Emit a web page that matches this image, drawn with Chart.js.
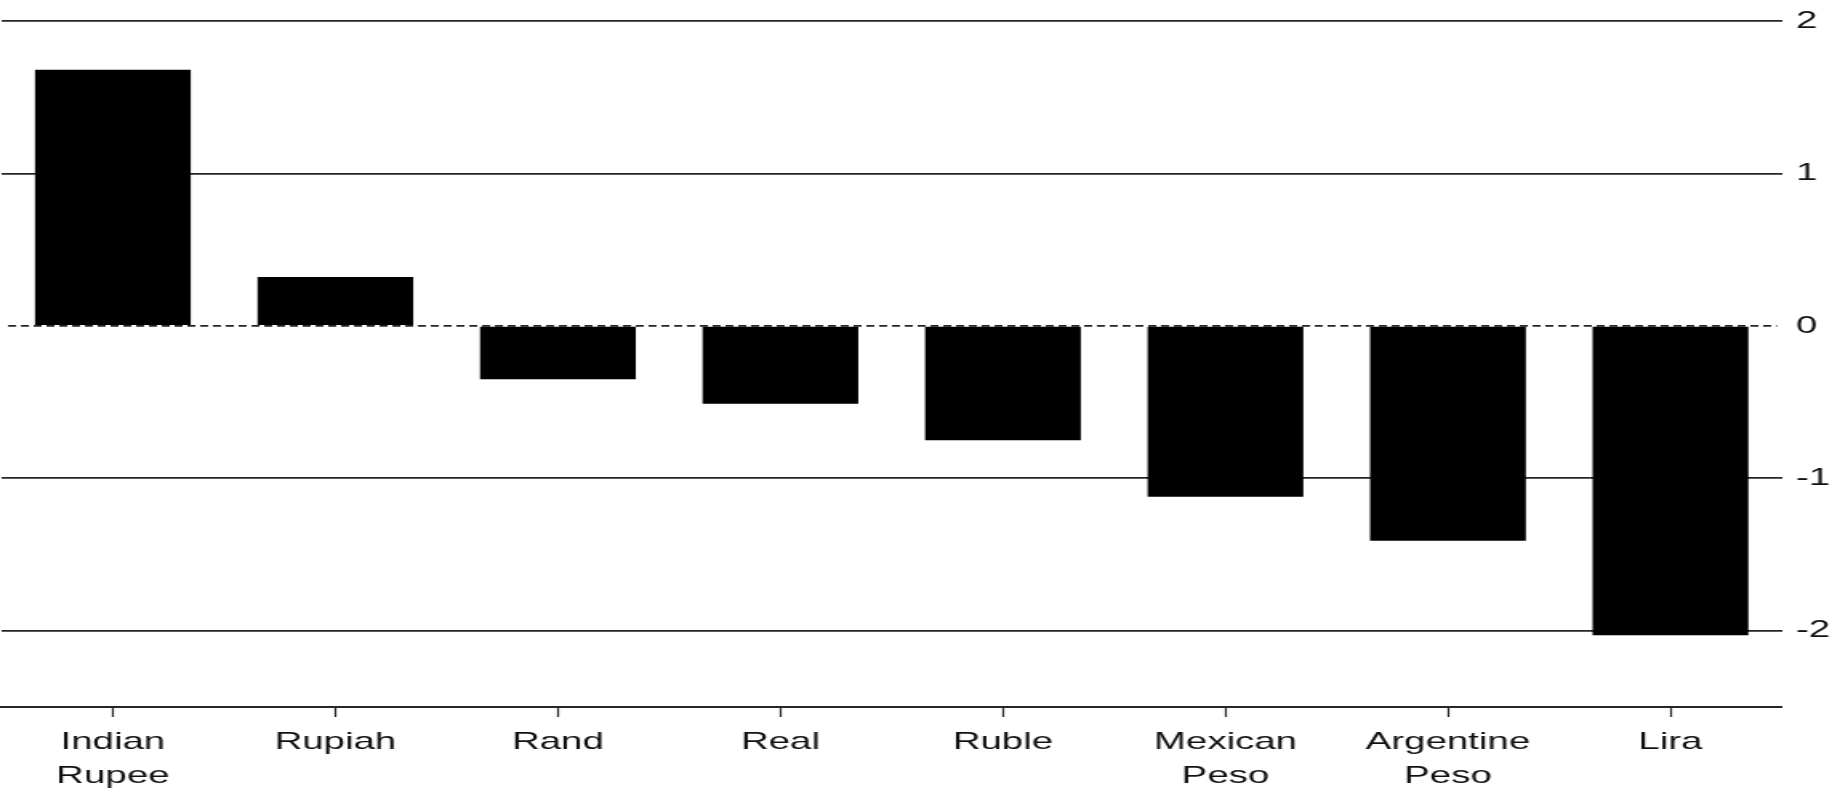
<!DOCTYPE html>
<html>
<head>
<meta charset="utf-8">
<script src="https://cdn.jsdelivr.net/npm/chart.js@4"></script>
<style>
  html, body { margin: 0; padding: 0; background: #fff; overflow: hidden; }
  /* the reference is stretched sideways, so the chart is drawn narrow and widened */
  #wrap { position: absolute; left: 0; top: 0; width: 1145.6px; height: 788px;
          transform: scaleX(1.6); transform-origin: 0 0; }
</style>
</head>
<body>
<div id="wrap"><canvas id="myChart"></canvas></div>
<script>
var categories = [['Indian', 'Rupee'], 'Rupiah', 'Rand', 'Real', 'Ruble',
                  ['Mexican', 'Peso'], ['Argentine', 'Peso'], 'Lira'];
var values = [1.68, 0.32, -0.35, -0.51, -0.75, -1.12, -1.41, -2.03];
var yTicks = [-2, -1, 0, 1, 2];

var lineColor = '#262626';
var textColor = '#111111';
var family = '"Liberation Sans", Arial, sans-serif';

// dashed line at zero, under the bars
var zeroLine = {
  id: 'zeroLine',
  beforeDatasetsDraw: function(chart) {
    var ctx = chart.ctx;
    var area = chart.chartArea;
    var y = chart.scales.y.getPixelForValue(0);
    ctx.save();
    ctx.strokeStyle = lineColor;
    ctx.lineWidth = 1.8;
    ctx.setLineDash([5, 3]);
    ctx.beginPath();
    ctx.moveTo(area.left + 4, y);
    ctx.lineTo(area.right - 3, y);
    ctx.stroke();
    ctx.restore();
  }
};

var ctx = document.getElementById('myChart').getContext('2d');
var myChart = new Chart(ctx, {
  type: 'bar',
  data: {
    labels: categories,
    datasets: [{
      data: values,
      backgroundColor: '#000000',
      borderWidth: 0,
      barPercentage: 0.7,
      categoryPercentage: 1
    }]
  },
  options: {
    responsive: true,
    maintainAspectRatio: false,
    animation: false,
    layout: { padding: { top: 19, left: 1, right: 0, bottom: 0 } },
    plugins: { legend: { display: false }, tooltip: { enabled: false } },
    scales: {
      x: {
        afterFit: function(scale) { scale.height = 81; },
        grid: {
          offset: false,
          drawOnChartArea: false,
          drawTicks: true,
          tickLength: 10,
          tickColor: lineColor,
          tickWidth: 1.2
        },
        border: { display: true, color: lineColor, width: 2 },
        ticks: { color: textColor, font: { family: family, size: 24, lineHeight: 1.4 },
                 padding: 9, maxRotation: 0, autoSkip: false }
      },
      y: {
        position: 'right',
        min: -2.5,
        max: 2,
        afterBuildTicks: function(scale) {
          scale.ticks = yTicks.map(function(v) { return { value: v }; });
        },
        afterFit: function(scale) { scale.width = 33; },
        grid: {
          drawTicks: false,
          lineWidth: 1.8,
          color: function(c) { return c.tick && c.tick.value === 0 ? 'rgba(0,0,0,0)' : lineColor; }
        },
        border: { display: false },
        ticks: { color: textColor, font: { family: family, size: 24, lineHeight: 1 }, padding: 9 }
      }
    }
  },
  plugins: [zeroLine]
});
</script>
</body>
</html>
